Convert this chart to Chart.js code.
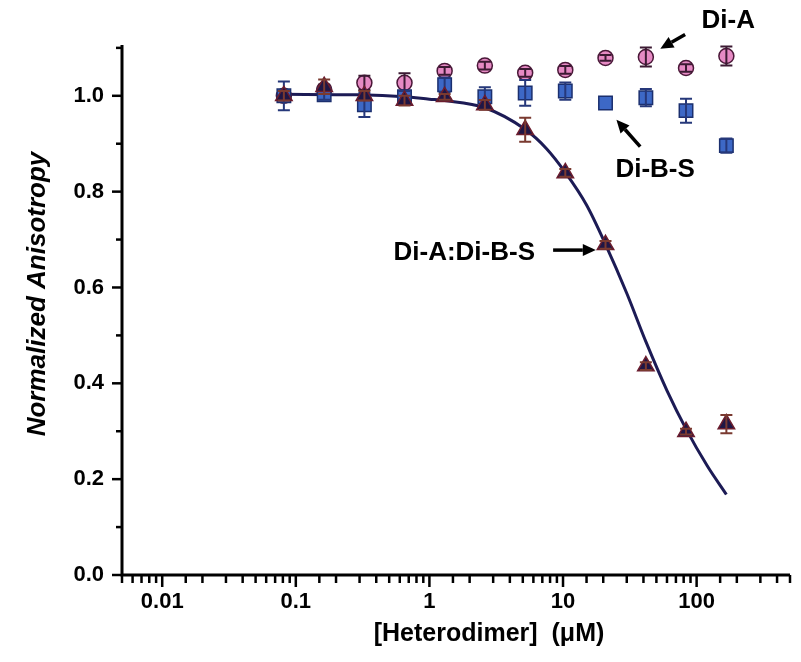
<!DOCTYPE html>
<html>
<head>
<meta charset="utf-8">
<script src="https://cdn.jsdelivr.net/npm/chart.js@4.4.1/dist/chart.umd.min.js"></script>
<style>
  html, body { margin: 0; padding: 0; background: #fff; }
  #wrap { width: 801px; height: 662px; }
</style>
</head>
<body>
<div id="wrap"><canvas id="chart" width="801" height="662"></canvas></div>
<script>
// heterodimer concentration (uM), 2-fold dilution series
const conc = [0.0814, 0.163, 0.326, 0.651, 1.30, 2.60, 5.21, 10.4, 20.8, 41.7, 83.3, 167];

// normalized anisotropy
const diA      = [1.000, 1.013, 1.027, 1.027, 1.052, 1.063, 1.048, 1.054, 1.079, 1.081, 1.058, 1.083];
const diAErr   = [0.008, 0.010, 0.015, 0.020, 0.008, 0.008, 0.008, 0.008, 0.006, 0.020, 0.008, 0.020];
const diBS     = [1.000, 1.002, 0.981, 0.998, 1.023, 0.998, 1.006, 1.010, 0.985, 0.996, 0.969, 0.896];
const diBSErr  = [0.030, 0.010, 0.025, 0.012, 0.015, 0.020, 0.027, 0.018, 0.000, 0.018, 0.025, 0.015];
const complex    = [1.000, 1.019, 1.000, 0.990, 0.998, 0.981, 0.929, 0.839, 0.689, 0.436, 0.299, 0.315];
const complexErr = [0.010, 0.015, 0.010, 0.010, 0.006, 0.010, 0.025, 0.008, 0.008, 0.008, 0.006, 0.019];

// fitted binding curve
const fitX = [0.0814, 0.3, 0.65, 1.0, 1.3, 2.6, 5.2, 7.5, 10.4, 15, 20.8, 30, 41.7, 60, 83.3, 120, 167];
const fitY = [1.003, 1.002, 0.998, 0.993, 0.990, 0.975, 0.930, 0.890, 0.840, 0.772, 0.690, 0.588, 0.487, 0.385, 0.305, 0.228, 0.168];

// axis labels
const xTitle = '[Heterodimer]  (\u03bcM)';
const yTitle = 'Normalized Anisotropy';

// annotations, anchored in data coordinates
const notes = [
  { text: 'Di-A', x: 172.6, y: 1.142, align: 'center' },
  { text: 'Di-B-S', x: 48.9, y: 0.831, align: 'center' },
  { text: 'Di-A:Di-B-S', x: 6.17, y: 0.658, align: 'right' }
];
const arrows = [
  { from: [82.0, 1.128], to: [53.5, 1.098] },
  { from: [37.8, 0.894], to: [25.1, 0.950] },
  { from: [8.43, 0.678], to: [17.6, 0.678] }
];

const FONT = '"Liberation Sans", Arial, Helvetica, sans-serif';

function pts(xs, ys) {
  return xs.map((x, i) => ({ x: x, y: ys[i] }));
}

// error bars drawn right after each dataset
const errorBars = {
  id: 'errorBars',
  afterDatasetDraw(chart, args) {
    const ds = chart.data.datasets[args.index];
    if (!ds.errors) return;
    const xs = chart.scales.x, ys = chart.scales.y;
    const ctx = chart.ctx;
    ctx.save();
    ctx.strokeStyle = ds.errorColor;
    ctx.lineWidth = 2;
    ds.data.forEach((p, i) => {
      const e = ds.errors[i];
      if (e <= 0.002) return;
      const px = xs.getPixelForValue(p.x);
      const top = ys.getPixelForValue(p.y + e);
      const bot = ys.getPixelForValue(p.y - e);
      ctx.beginPath();
      ctx.moveTo(px, top); ctx.lineTo(px, bot);
      ctx.moveTo(px - 6, top); ctx.lineTo(px + 6, top);
      ctx.moveTo(px - 6, bot); ctx.lineTo(px + 6, bot);
      ctx.stroke();
    });
    ctx.restore();
  }
};

// axis lines, tick marks and axis titles
const axes = {
  id: 'axes',
  beforeDatasetsDraw(chart) {
    const ctx = chart.ctx;
    const a = chart.chartArea;
    const xs = chart.scales.x, ys = chart.scales.y;
    ctx.save();
    ctx.strokeStyle = '#000';
    ctx.lineWidth = 3;
    ctx.beginPath();
    ctx.moveTo(a.left, a.top); ctx.lineTo(a.left, a.bottom + 1.5);
    ctx.moveTo(a.left, a.bottom); ctx.lineTo(a.right, a.bottom);
    ctx.stroke();

    ctx.lineWidth = 2.5;
    ys.ticks.forEach(t => {
      const n = Math.round(t.value * 10);
      if (Math.abs(t.value * 10 - n) > 1e-6) return;
      const len = n % 2 === 0 ? 10 : 6;
      const py = ys.getPixelForValue(t.value);
      ctx.beginPath();
      ctx.moveTo(a.left - len, py); ctx.lineTo(a.left, py);
      ctx.stroke();
    });
    xs.ticks.forEach(t => {
      const l = Math.log10(t.value);
      const len = Math.abs(l - Math.round(l)) < 1e-6 ? 12 : 8;
      const px = xs.getPixelForValue(t.value);
      ctx.beginPath();
      ctx.moveTo(px, a.bottom); ctx.lineTo(px, a.bottom + len);
      ctx.stroke();
    });
    ctx.restore();
  },
  afterDraw(chart) {
    const ctx = chart.ctx;
    const xs = chart.scales.x, ys = chart.scales.y;
    ctx.save();
    ctx.fillStyle = '#000';
    ctx.textAlign = 'center';
    ctx.textBaseline = 'middle';
    ctx.font = 'bold 25px ' + FONT;
    ctx.fillText(xTitle, 489, 634);
    ctx.save();
    ctx.translate(38, 294);
    ctx.rotate(-Math.PI / 2);
    ctx.font = 'italic bold 26px ' + FONT;
    ctx.fillText(yTitle, 0, 0);
    ctx.restore();

    // annotations
    ctx.font = 'bold 26px ' + FONT;
    ctx.textBaseline = 'alphabetic';
    notes.forEach(n => {
      ctx.textAlign = n.align;
      ctx.fillText(n.text, xs.getPixelForValue(n.x), ys.getPixelForValue(n.y));
    });
    ctx.strokeStyle = '#000';
    ctx.lineWidth = 3.5;
    arrows.forEach(ar => {
      const x0 = xs.getPixelForValue(ar.from[0]), y0 = ys.getPixelForValue(ar.from[1]);
      const x1 = xs.getPixelForValue(ar.to[0]), y1 = ys.getPixelForValue(ar.to[1]);
      const ang = Math.atan2(y1 - y0, x1 - x0);
      const hl = 13, hw = 6;
      const bx = x1 - hl * Math.cos(ang), by = y1 - hl * Math.sin(ang);
      ctx.beginPath();
      ctx.moveTo(x0, y0); ctx.lineTo(bx, by);
      ctx.stroke();
      ctx.beginPath();
      ctx.moveTo(x1, y1);
      ctx.lineTo(bx + hw * Math.sin(ang), by - hw * Math.cos(ang));
      ctx.lineTo(bx - hw * Math.sin(ang), by + hw * Math.cos(ang));
      ctx.closePath();
      ctx.fill();
    });
    ctx.restore();
  }
};

const ctx = document.getElementById('chart').getContext('2d');
const chart = new Chart(ctx, {
  type: 'scatter',
  data: {
    datasets: [
      {
        label: 'fit',
        data: pts(fitX, fitY),
        showLine: true,
        cubicInterpolationMode: 'monotone',
        borderColor: '#1c1b55',
        borderWidth: 3,
        pointRadius: 0,
        order: 4
      },
      {
        label: 'Di-A',
        data: pts(conc, diA),
        pointStyle: 'circle',
        pointRadius: 7.5,
        backgroundColor: '#e68ac4',
        borderColor: '#4a1838',
        borderWidth: 1.5,
        errors: diAErr,
        errorColor: '#3c1a33',
        order: 3
      },
      {
        label: 'Di-B-S',
        data: pts(conc, diBS),
        pointStyle: 'rect',
        pointRadius: 9.5,
        backgroundColor: '#3d68c6',
        borderColor: '#1b2f6e',
        borderWidth: 1.5,
        errors: diBSErr,
        errorColor: '#26387a',
        order: 2
      },
      {
        label: 'Di-A:Di-B-S',
        data: pts(conc, complex),
        pointStyle: 'triangle',
        pointRadius: 9.5,
        backgroundColor: '#1f1645',
        borderColor: '#6b1d2e',
        borderWidth: 1.5,
        errors: complexErr,
        errorColor: '#7a3a30',
        order: 1
      }
    ]
  },
  options: {
    responsive: false,
    animation: false,
    layout: { padding: { top: 45, right: 4, left: 0, bottom: 0 } },
    plugins: {
      legend: { display: false },
      tooltip: { enabled: false }
    },
    scales: {
      x: {
        type: 'logarithmic',
        min: 0.005,
        max: 500,
        grid: { display: false },
        border: { display: false },
        ticks: {
          autoSkip: false,
          maxRotation: 0,
          padding: 6,
          color: '#000',
          font: { family: FONT, size: 22, weight: 'bold' },
          callback: function (value) {
            const l = Math.log10(value);
            if (Math.abs(l - Math.round(l)) > 1e-6) return '';
            return String(Number(value.toPrecision(1)));
          }
        },
        afterFit: function (scale) { scale.height = 87; }
      },
      y: {
        type: 'linear',
        min: 0,
        max: 1.106,
        grid: { display: false },
        border: { display: false },
        ticks: {
          stepSize: 0.1,
          includeBounds: false,
          padding: 10,
          color: '#000',
          font: { family: FONT, size: 22, weight: 'bold' },
          callback: function (value) {
            const n = Math.round(value * 10);
            return n % 2 === 0 ? (n / 10).toFixed(1) : '';
          }
        },
        afterFit: function (scale) { scale.width = 122; }
      }
    }
  },
  plugins: [axes, errorBars]
});
</script>
</body>
</html>
